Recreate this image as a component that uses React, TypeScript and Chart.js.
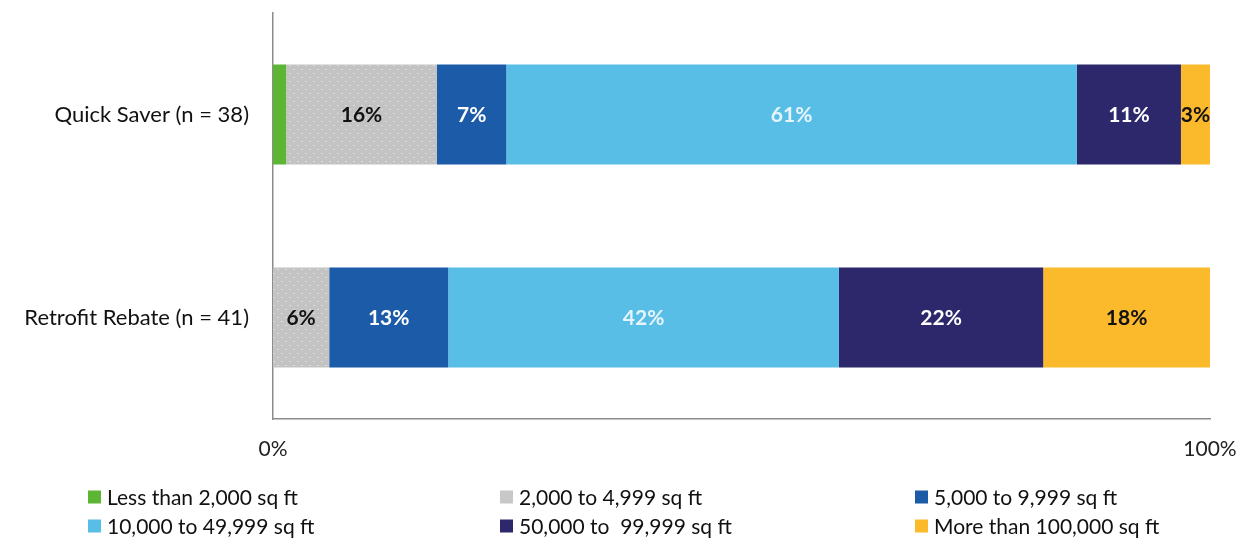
import React, { useEffect, useRef } from "react";
import { Chart, registerables } from "chart.js";
Chart.register(...registerables);

const categories = ["Quick Saver (n = 38)", "Retrofit Rebate (n = 41)"];
const seriesNames = [
  "Less than 2,000 sq ft",
  "2,000 to 4,999 sq ft",
  "5,000 to 9,999 sq ft",
  "10,000 to 49,999 sq ft",
  "50,000 to  99,999 sq ft",
  "More than 100,000 sq ft",
];
const lessThan2k = [1.4, 0];
const from2kTo5k = [16.1, 6.0];
const from5kTo10k = [7.4, 12.7];
const from10kTo50k = [60.9, 41.7];
const from50kTo100k = [11.1, 21.8];
const moreThan100k = [3.1, 17.8];
const xTickValues = [0, 100];

const seriesColors = ["#5db534", "#c6c6c6", "#1c5ba7", "#58bee6", "#2d286b", "#fbb92c"];
const labelColors = ["#111111", "#111111", "#ffffff", "#e6f4fb", "#ffffff", "#111111"];

const FONT = "Lato, 'Open Sans', sans-serif";

function makePattern(): CanvasPattern | string {
  const c = document.createElement("canvas");
  c.width = 8;
  c.height = 8;
  const g = c.getContext("2d");
  if (!g) return "#c6c6c6";
  g.fillStyle = "#c3c3c3";
  g.fillRect(0, 0, 8, 8);
  g.fillStyle = "#dcdcdc";
  g.fillRect(1, 1, 2, 1);
  g.fillRect(5, 5, 2, 1);
  const p = g.createPattern(c, "repeat");
  return p || "#c6c6c6";
}

export default function App() {
  const ref = useRef<HTMLCanvasElement | null>(null);

  useEffect(() => {
    document.body.style.margin = "0";
    const canvas = ref.current;
    if (!canvas) return;
    const pattern = makePattern();
    const values = [lessThan2k, from2kTo5k, from5kTo10k, from10kTo50k, from50kTo100k, moreThan100k];

    const datasets = values.map((v, i) => ({
      label: seriesNames[i],
      data: v,
      backgroundColor: i === 1 ? pattern : seriesColors[i],
      borderWidth: 0,
      categoryPercentage: 1,
      barPercentage: 0.493,
    }));

    const labelPlugin = {
      id: "segLabels",
      afterDatasetsDraw(chart: any) {
        const ctx = chart.ctx;
        ctx.save();
        ctx.font = `bold 21px ${FONT}`;
        ctx.textAlign = "center";
        ctx.textBaseline = "middle";
        chart.data.datasets.forEach((ds: any, di: number) => {
          const meta = chart.getDatasetMeta(di);
          meta.data.forEach((el: any, idx: number) => {
            const v = ds.data[idx];
            if (v < 2.5) return;
            const cx = (el.x + el.base) / 2;
            ctx.fillStyle = labelColors[di];
            ctx.fillText(Math.round(v) + "%", cx, el.y + 1);
          });
        });
        ctx.restore();
      },
    };

    const legendPlugin = {
      id: "gridLegend",
      afterDraw(chart: any) {
        const ctx = chart.ctx;
        const colX = [88, 500, 915];
        const rowY = [497, 526];
        ctx.save();
        ctx.font = `21px ${FONT}`;
        ctx.textBaseline = "middle";
        ctx.textAlign = "left";
        seriesNames.forEach((name, i) => {
          const x = colX[i % 3];
          const y = rowY[Math.floor(i / 3)];
          ctx.fillStyle = i === 1 ? "#c8c8c8" : seriesColors[i];
          ctx.fillRect(x, y - 6.5, 13, 13);
          ctx.fillStyle = "#111111";
          ctx.fillText(name, x + 19, y + 1);
        });
        ctx.restore();
      },
    };

    const chart = new Chart(canvas, {
      type: "bar",
      data: { labels: categories, datasets },
      plugins: [labelPlugin, legendPlugin],
      options: {
        indexAxis: "y",
        animation: false,
        responsive: false,
        maintainAspectRatio: false,
        layout: { padding: { top: 13, right: 36, left: 0, bottom: 0 } },
        plugins: {
          legend: { display: false },
          tooltip: { enabled: false },
        },
        scales: {
          x: {
            stacked: true,
            min: 0,
            max: 100,
            afterFit(scale: any) {
              scale.height = 130;
              scale.paddingLeft = 0;
              scale.paddingRight = 0;
              scale.paddingTop = 0;
              scale.paddingBottom = 0;
            },
            afterBuildTicks(scale: any) {
              scale.ticks = xTickValues.map((v) => ({ value: v }));
            },
            grid: { display: false, drawTicks: false },
            border: { display: true, color: "#8c8c8c", width: 1.5 },
            ticks: {
              padding: 18,
              color: "#222222",
              font: { family: FONT, size: 21 },
              callback: (v: any) => v + "%",
            },
          },
          y: {
            stacked: true,
            afterFit(scale: any) {
              scale.width = 273;
              scale.paddingLeft = 0;
              scale.paddingRight = 0;
              scale.paddingTop = 0;
              scale.paddingBottom = 0;
            },
            grid: { display: false, drawTicks: false },
            border: { display: true, color: "#8c8c8c", width: 1.5 },
            ticks: {
              padding: 24,
              color: "#111111",
              font: { family: FONT, size: 22 },
            },
          },
        },
      },
    });
    return () => chart.destroy();
  }, []);

  return (
    <div style={{ width: 1246, height: 549, background: "#ffffff" }}>
      <canvas ref={ref} width={1246} height={549} style={{ display: "block" }} />
    </div>
  );
}
